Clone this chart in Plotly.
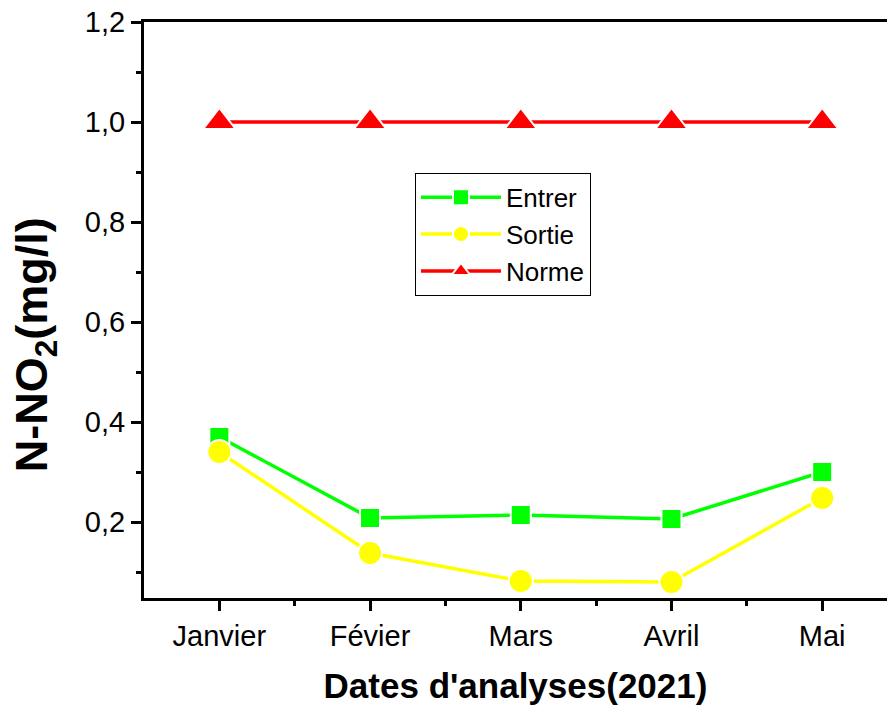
import plotly.graph_objects as go

months = ["Janvier", "Févier", "Mars", "Avril", "Mai"]
entrer = [0.37, 0.208, 0.214, 0.206, 0.30]
sortie = [0.34, 0.138, 0.082, 0.080, 0.248]
norme = [1.0, 1.0, 1.0, 1.0, 1.0]

xi = list(range(len(months)))

fig = go.Figure()
fig.add_trace(go.Scatter(x=xi, y=entrer, name="Entrer", mode="lines+markers",
                         line=dict(color="#00FF00", width=3.5),
                         marker=dict(symbol="square", size=20, color="#00FF00",
                                     line=dict(color="white", width=2))))
fig.add_trace(go.Scatter(x=xi, y=sortie, name="Sortie", mode="lines+markers",
                         line=dict(color="#FFFF00", width=3.5),
                         marker=dict(symbol="circle", size=24, color="#FFFF00",
                                     line=dict(color="white", width=2))))
fig.add_trace(go.Scatter(x=xi, y=norme, name="Norme", mode="lines+markers",
                         line=dict(color="#FF0000", width=3.5),
                         marker=dict(symbol="triangle-up", size=28, color="#FF0000",
                                     line=dict(color="white", width=2))))

fig.update_layout(
    width=887, height=705,
    margin=dict(l=144, r=0, t=22, b=107),
    plot_bgcolor="white", paper_bgcolor="white",
    separators=", ",
    font=dict(family="Arial, Liberation Sans", size=29, color="black"),
    showlegend=True,
    legend=dict(x=0.3647, y=0.738, xanchor="left", yanchor="top",
                bordercolor="black", borderwidth=1, bgcolor="white",
                font=dict(size=26), tracegroupgap=0, itemwidth=80),
    annotations=[dict(text="<b>N-NO<sub>2</sub>(mg/l)</b>", xref="paper", yref="paper",
                      x=-0.147, y=0.44, xanchor="center", yanchor="middle",
                      textangle=-90, showarrow=False, font=dict(size=45))],
)
fig.update_xaxes(
    range=[-0.5, 4.43], tickmode="array", tickvals=xi, ticktext=months,
    showline=True, linecolor="black", linewidth=3, mirror=True,
    ticks="outside", ticklen=10, tickwidth=3, tickcolor="black",
    tickfont=dict(size=29),
    minor=dict(tickvals=[0.5, 1.5, 2.5, 3.5], ticks="outside", ticklen=5, tickwidth=3, tickcolor="black"),
    showgrid=False, zeroline=False,
    title=dict(text="<b>Dates d'analyses(2021)</b>", font=dict(size=35), standoff=23),
)
fig.update_yaxes(
    range=[0.048, 1.2], tickmode="array", tickvals=[0.2, 0.4, 0.6, 0.8, 1.0, 1.2],
    ticktext=["0,2", "0,4", "0,6", "0,8", "1,0", "1,2"],
    showline=True, linecolor="black", linewidth=3, mirror=False,
    ticks="outside", ticklen=10, tickwidth=3, tickcolor="black",
    tickfont=dict(size=29),
    minor=dict(tickvals=[0.1, 0.3, 0.5, 0.7, 0.9, 1.1], ticks="outside", ticklen=5, tickwidth=3, tickcolor="black"),
    showgrid=False, zeroline=False,
)
fig.write_html("out.html")
